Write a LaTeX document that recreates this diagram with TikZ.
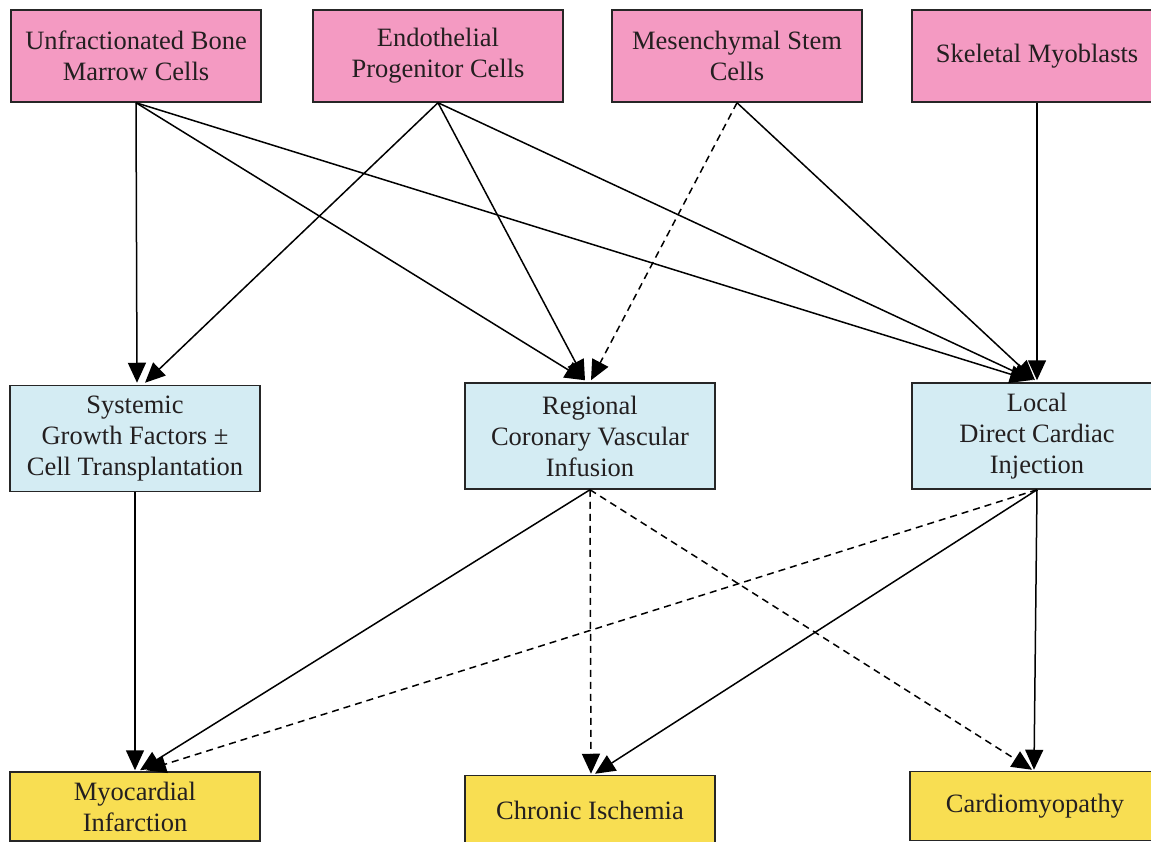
\documentclass[tikz,border=0pt]{standalone}
\usepackage{fontspec}
\setmainfont{Liberation Serif}
\usetikzlibrary{arrows.meta}
\definecolor{cpink}{HTML}{F49AC2}
\definecolor{cblue}{HTML}{D4ECF3}
\definecolor{cyel}{HTML}{F8DE52}
\definecolor{ctxt}{HTML}{231F20}
\begin{document}
\begin{tikzpicture}[x=1pt,y=-1pt,
  box/.style={draw=black!85,line width=1.5pt,rectangle,minimum width=250pt,align=center,
    text=ctxt,font=\fontsize{26.5}{31}\selectfont,inner sep=0pt},
  src/.style={box,fill=cpink,minimum height=92pt},
  mid/.style={box,fill=cblue,minimum height=106pt},
  dst/.style={box,fill=cyel,minimum height=69pt},
  conn/.style={line width=1.5pt,-{Triangle[length=20pt,width=18pt]}},
  dconn/.style={conn,dash pattern=on 7pt off 5pt}]
\useasboundingbox (0,0) rectangle (1151,842);
\node[src] (a) at (136,56) {Unfractionated Bone\\Marrow Cells};
\node[src] (b) at (438,56) {Endothelial\\Progenitor Cells};
\node[src] (c) at (737,56) {Mesenchymal Stem\\Cells};
\node[src] (d) at (1037,56) {Skeletal Myoblasts};
\node[mid] (e) at (135,438.5) {Systemic\\Growth Factors ±\\Cell Transplantation};
\node[mid] (f) at (590,436) {Regional\\Coronary Vascular\\Infusion};
\node[mid] (g) at (1037,436) {Local\\Direct Cardiac\\Injection};
\node[dst] (h) at (135,806.5) {Myocardial\\Infarction};
\node[dst] (i) at (590,810) {Chronic Ischemia};
\node[dst] (j) at (1035,806) {Cardiomyopathy};
% top to middle
\draw[conn] (a.south) -- ([xshift=2pt,yshift=2pt]e.north);
\draw[conn] (a.south) -- ([xshift=-5pt,yshift=2pt]f.north);
\draw[conn] (a.south) -- ([xshift=-7pt,yshift=2pt]g.north);
\draw[conn] (b.south) -- ([xshift=10pt,yshift=2pt]e.north);
\draw[conn] (b.south) -- ([xshift=-5pt,yshift=2pt]f.north);
\draw[conn] (b.south) -- ([xshift=-4pt,yshift=2pt]g.north);
\draw[dconn] (c.south) -- ([xshift=1pt,yshift=2pt]f.north);
\draw[conn] (c.south) -- ([xshift=-2pt,yshift=2pt]g.north);
\draw[conn] (d.south) -- ([yshift=2pt]g.north);
% middle to bottom
\draw[conn] (e.south) -- ([yshift=1pt]h.north);
\draw[conn] (f.south) -- ([xshift=5pt,yshift=1pt]h.north);
\draw[dconn] (g.south) -- ([xshift=11pt,yshift=1pt]h.north);
\draw[dconn] (f.south) -- ([xshift=1pt,yshift=1pt]i.north);
\draw[conn] (g.south) -- ([xshift=5pt,yshift=1pt]i.north);
\draw[dconn] (f.south) -- ([xshift=-3pt,yshift=1pt]j.north);
\draw[conn] (g.south) -- ([xshift=-1pt,yshift=1pt]j.north);
\end{tikzpicture}
\end{document}
